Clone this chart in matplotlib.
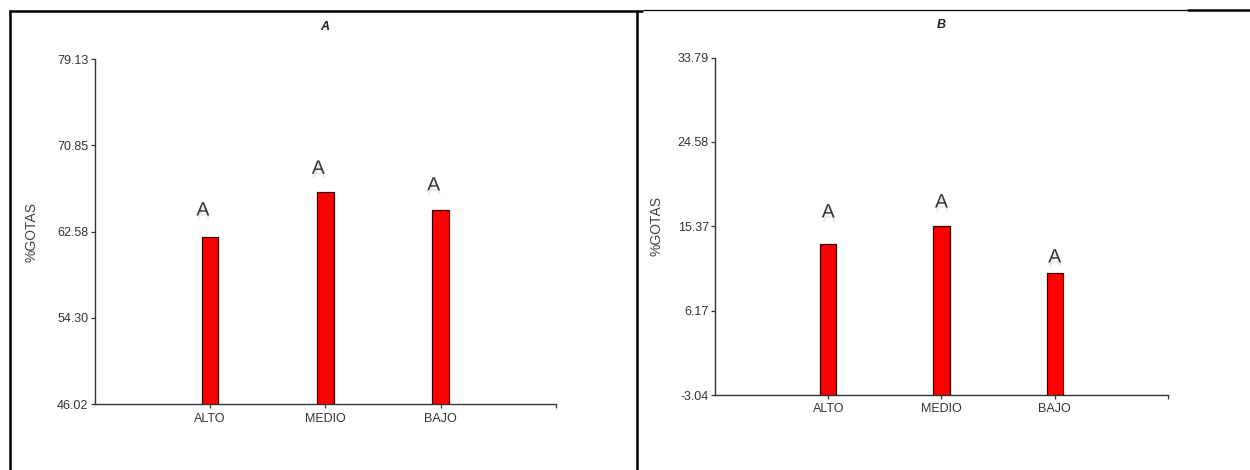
import matplotlib
matplotlib.use("Agg")
import matplotlib.pyplot as plt
import matplotlib.patheffects as pe
from matplotlib.lines import Line2D

plt.rcParams['font.family'] = ['Liberation Sans', 'DejaVu Sans']

# ---- data ----
categories = ["ALTO", "MEDIO", "BAJO"]
values_a = [62.08, 66.36, 64.61]
values_b = [13.42, 15.41, 10.25]
letters_a = ["A", "A", "A"]
letters_b = ["A", "A", "A"]
letter_y_a = [64.55, 68.55, 66.95]
letter_y_b = [16.82, 17.91, 11.91]
yticks_a = [46.02, 54.30, 62.58, 70.85, 79.13]
yticks_b = [-3.04, 6.17, 15.37, 24.58, 33.79]
titles = ["A", "B"]
ylabel = "%GOTAS"

W, H = 1250, 470
fig = plt.figure(figsize=(W / 100, H / 100), dpi=100)
fig.patch.set_facecolor("white")


def px_rect(x0, x1, ytop, ybot):
    return [x0 / W, 1 - ybot / H, (x1 - x0) / W, (ybot - ytop) / H]


ax_a = fig.add_axes(px_rect(94.5, 556, 59, 404.3))
ax_b = fig.add_axes(px_rect(715, 1168, 57.5, 395))

spine_col = "#333333"
text_col = "#333333"


def draw(ax, vals, letters, ly, yt, title, lx_off, ylab_x):
    pos = list(range(1, len(categories) + 1))
    base = yt[0]
    ax.bar(pos, [v - base for v in vals], bottom=base, width=0.145,
           color="#ff0000", edgecolor="#3a0000", linewidth=0.9, zorder=3)
    ax.set_xlim(0, len(categories) + 1)
    ax.set_ylim(yt[0], yt[-1])
    ax.set_yticks(yt)
    ax.set_yticklabels([f"{v:.2f}" for v in yt])
    ax.set_xticks(pos + [len(categories) + 1])
    ax.set_xticklabels(categories + [""])
    for s in ["top", "right"]:
        ax.spines[s].set_visible(False)
    for s in ["left", "bottom"]:
        ax.spines[s].set_color(spine_col)
        ax.spines[s].set_linewidth(1.0)
    ax.tick_params(axis="both", direction="out", length=3, width=0.9,
                   color=spine_col, labelcolor=text_col, labelsize=9, pad=1.5)
    ax.tick_params(axis="x", pad=3)
    ax.set_ylabel(ylabel, fontsize=10, color="#444444")
    ax.yaxis.set_label_coords(ylab_x, 0.5)
    ax.set_title(title, fontsize=9, fontweight="bold", fontstyle="italic",
                 color="#222222", pad=21)
    for p, t, y in zip(pos, letters, ly):
        ax.annotate(t, xy=(p, y), xytext=(lx_off, 0), textcoords="offset points",
                    ha="center", va="center", fontsize=14, color="#333333",
                    path_effects=[pe.SimplePatchShadow(offset=(0.5, -3),
                                                       shadow_rgbFace="#bbbbbb",
                                                       alpha=0.35),
                                  pe.Normal()],
                    zorder=4)


draw(ax_a, values_a, letters_a, letter_y_a, yticks_a, titles[0], -5, -0.121)
draw(ax_b, values_b, letters_b, letter_y_b, yticks_b, titles[1], 0, -0.113)


# ---- table-like frame borders ----
def hline(x0, x1, y, lw):
    fig.add_artist(Line2D([x0 / W, x1 / W], [1 - y / H, 1 - y / H],
                          transform=fig.transFigure, color="black", linewidth=lw,
                          solid_capstyle="butt"))


def vline(x, y0, y1, lw):
    fig.add_artist(Line2D([x / W, x / W], [1 - y0 / H, 1 - y1 / H],
                          transform=fig.transFigure, color="black", linewidth=lw,
                          solid_capstyle="butt"))


hline(8.5, 643, 10.5, 1.8)
hline(643, 1187, 9.5, 0.9)
hline(1187, 1250, 10.3, 1.8)
vline(9.5, 9.5, 470, 1.8)
vline(636.5, 9.5, 470, 1.8)

fig.savefig("out.png", dpi=100, facecolor="white")
